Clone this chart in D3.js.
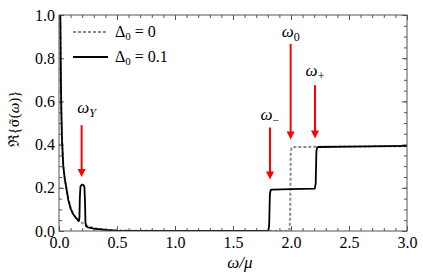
<!DOCTYPE html>
<html>
<head>
<meta charset="utf-8">
<script src="https://cdn.jsdelivr.net/npm/d3@7"></script>
<style>
  body { margin: 0; background: #fff; }
  svg { display: block; font-family: "Liberation Serif", "DejaVu Serif", serif; }
</style>
</head>
<body>
<svg id="chart" width="423" height="279"></svg>
<script>
// curve for Delta0 = 0 (gray dashed)
const omegaGap0 = [0.008, 0.012, 0.016, 0.02, 0.026, 0.037, 0.05, 0.066, 0.08, 0.1, 0.12, 0.15, 0.18, 0.2, 0.25, 0.3, 0.4, 0.5, 0.7, 1.0, 1.5, 1.985, 1.992, 1.998, 2.004, 2.015, 2.05, 2.5, 3.0];
const sigmaGap0 = [1.2, 0.95, 0.72, 0.56, 0.42, 0.30, 0.24, 0.19, 0.145, 0.105, 0.08, 0.058, 0.044, 0.037, 0.022, 0.013, 0.006, 0.003, 0.001, 0.0, 0.0, 0.0, 0.05, 0.36, 0.385, 0.388, 0.389, 0.391, 0.393];

// curve for Delta0 = 0.1 (black solid)
const omegaGap1 = [0.008, 0.012, 0.016, 0.02, 0.026, 0.037, 0.05, 0.066, 0.08, 0.1, 0.12, 0.15, 0.17, 0.176, 0.18, 0.185, 0.195, 0.21, 0.219, 0.224, 0.228, 0.234, 0.25, 0.3, 0.4, 0.5, 0.7, 1.0, 1.5, 1.805, 1.812, 1.818, 1.825, 1.84, 2.0, 2.205, 2.213, 2.219, 2.226, 2.24, 2.5, 3.0];
const sigmaGap1 = [1.2, 0.95, 0.72, 0.56, 0.42, 0.30, 0.24, 0.19, 0.145, 0.105, 0.08, 0.058, 0.046, 0.06, 0.16, 0.205, 0.215, 0.213, 0.205, 0.14, 0.04, 0.022, 0.017, 0.011, 0.005, 0.002, 0.001, 0.0, 0.0, 0.0, 0.03, 0.17, 0.19, 0.192, 0.194, 0.196, 0.22, 0.37, 0.387, 0.389, 0.391, 0.394];

const legendLabels = ["0", "0.1"];

// arrows: omega position, arrow top/tip and label height (in sigma units)
const arrowNames = ["Y", "0", "+", "\u2212"];
const arrowOmega = [0.195, 1.997, 2.207, 1.819];
const arrowTop = [0.49, 0.866, 0.675, 0.479];
const arrowTip = [0.25, 0.424, 0.428, 0.238];
const arrowLabel = [0.545, 0.9, 0.716, 0.515];

const xTicks = [0, 0.5, 1.0, 1.5, 2.0, 2.5, 3.0];
const yTicks = [0, 0.2, 0.4, 0.6, 0.8, 1.0];

const margin = { top: 15, right: 16, bottom: 48, left: 59 };
const width = 423;
const height = 279;

const svg = d3.select("#chart");

const x = d3.scaleLinear().domain([0, 3]).range([margin.left, width - margin.right]);
const y = d3.scaleLinear().domain([0, 1]).range([height - margin.bottom, margin.top]);

svg.append("defs").append("clipPath").attr("id", "plotclip")
  .append("rect")
  .attr("x", margin.left).attr("y", margin.top)
  .attr("width", x(3) - x(0)).attr("height", y(0) - y(1));

const frameColor = "#555";

// minor ticks
const xMinor = d3.range(0, 3.001, 0.1);
const yMinor = d3.range(0, 1.001, 0.05);

function tickAxis(axisFn, scale, values, size, pos) {
  const g = svg.append("g")
    .attr("transform", pos)
    .call(axisFn(scale).tickValues(values).tickSize(-size).tickFormat(""));
  g.select(".domain").remove();
  g.selectAll("line").attr("stroke", frameColor);
  return g;
}

tickAxis(d3.axisBottom, x, xMinor, 3, `translate(0,${y(0)})`);
tickAxis(d3.axisTop, x, xMinor, 3, `translate(0,${y(1)})`);
tickAxis(d3.axisLeft, y, yMinor, 3, `translate(${x(0)},0)`);
tickAxis(d3.axisRight, y, yMinor, 3, `translate(${x(3)},0)`);
tickAxis(d3.axisTop, x, xTicks, 5, `translate(0,${y(1)})`);
tickAxis(d3.axisRight, y, yTicks, 5, `translate(${x(3)},0)`);

const xAxis = svg.append("g")
  .attr("transform", `translate(0,${y(0)})`)
  .call(d3.axisBottom(x).tickValues(xTicks).tickSize(-5).tickPadding(6).tickFormat(d3.format(".1f")));
xAxis.select(".domain").remove();
xAxis.selectAll("line").attr("stroke", frameColor);
xAxis.selectAll("text").attr("font-size", 16).attr("font-family", "Liberation Serif").attr("fill", "#000");

const yAxis = svg.append("g")
  .attr("transform", `translate(${x(0)},0)`)
  .call(d3.axisLeft(y).tickValues(yTicks).tickSize(-5).tickPadding(4).tickFormat(d3.format(".1f")));
yAxis.select(".domain").remove();
yAxis.selectAll("line").attr("stroke", frameColor);
yAxis.selectAll("text").attr("font-size", 16).attr("font-family", "Liberation Serif").attr("fill", "#000");

const line = d3.line().x(d => x(d[0])).y(d => y(d[1]));

const plot = svg.append("g").attr("clip-path", "url(#plotclip)");

plot.append("path")
  .datum(d3.zip(omegaGap0, sigmaGap0))
  .attr("fill", "none")
  .attr("stroke", "#8a8a8a")
  .attr("stroke-width", 2)
  .attr("stroke-dasharray", "3,2")
  .attr("d", line);

plot.append("path")
  .datum(d3.zip(omegaGap1, sigmaGap1))
  .attr("fill", "none")
  .attr("stroke", "#000")
  .attr("stroke-width", 1.8)
  .attr("stroke-linejoin", "round")
  .attr("d", line);

// frame
svg.append("rect")
  .attr("x", x(0)).attr("y", y(1))
  .attr("width", x(3) - x(0)).attr("height", y(0) - y(1))
  .attr("fill", "none")
  .attr("stroke", frameColor)
  .attr("stroke-width", 1);

// red arrows
const arrows = svg.append("g");
arrowNames.forEach((name, i) => {
  const ax = x(arrowOmega[i]);
  const tip = y(arrowTip[i]);
  arrows.append("line")
    .attr("x1", ax).attr("x2", ax)
    .attr("y1", y(arrowTop[i])).attr("y2", tip - 6)
    .attr("stroke", "#f00")
    .attr("stroke-width", 2);
  arrows.append("path")
    .attr("d", `M${ax - 4},${tip - 8} L${ax + 4},${tip - 8} L${ax},${tip} Z`)
    .attr("fill", "#f00");
  const t = arrows.append("text")
    .attr("x", ax + (name === "Y" ? 5 : 0))
    .attr("y", y(arrowLabel[i]))
    .attr("text-anchor", "middle")
    .attr("font-size", 17);
  t.append("tspan").attr("font-style", "italic").text("\u03c9");
  t.append("tspan")
    .attr("font-size", 12)
    .attr("dy", 4)
    .attr("font-style", name === "Y" ? "italic" : "normal")
    .text(name);
});

// legend
const legend = svg.append("g");
legendLabels.forEach((lab, i) => {
  const ly = 32 + i * 25;
  legend.append("line")
    .attr("x1", 73).attr("x2", 108)
    .attr("y1", ly).attr("y2", ly)
    .attr("stroke", i === 0 ? "#8a8a8a" : "#000")
    .attr("stroke-width", 2)
    .attr("stroke-dasharray", i === 0 ? "3,2" : null);
  const t = legend.append("text")
    .attr("x", 115).attr("y", ly + 5)
    .attr("font-size", 16);
  t.append("tspan").text("\u0394");
  t.append("tspan").attr("font-size", 11).attr("dy", 3).text("0");
  t.append("tspan").attr("dy", -3).text(" = " + lab);
});

// axis titles
svg.append("text")
  .attr("x", 240).attr("y", 268)
  .attr("text-anchor", "middle")
  .attr("font-size", 17)
  .attr("font-style", "italic")
  .text("\u03c9/\u03bc");

const yt = svg.append("text")
  .attr("transform", "translate(19,119) rotate(-90)")
  .attr("text-anchor", "middle")
  .attr("font-size", 15);
yt.append("tspan").text("\u211c{");
yt.append("tspan").attr("font-family", "DejaVu Serif").attr("font-size", 13).text("\u03c3\u0303");
yt.append("tspan").text("(");
yt.append("tspan").attr("font-style", "italic").text("\u03c9");
yt.append("tspan").text(")}");
</script>
</body>
</html>
